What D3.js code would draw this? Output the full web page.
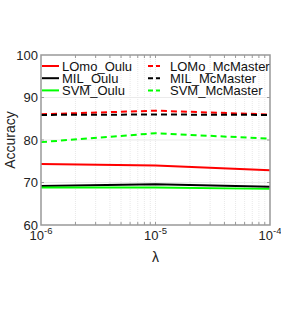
<!DOCTYPE html>
<html>
<head>
<meta charset="utf-8">
<script src="https://cdn.jsdelivr.net/npm/d3@7"></script>
<style>
  body { margin: 0; background: #fff; }
  text { font-family: "Liberation Sans", Arial, sans-serif; }
</style>
</head>
<body>
<svg width="281" height="328"></svg>
<script>
// lambda values and accuracies
const lambdas = [1e-6, 1e-5, 1e-4];
const lomoOulu = [74.35, 74.0, 72.9];
const milOulu = [69.2, 69.6, 69.0];
const svmOulu = [68.8, 68.8, 68.5];
const lomoMcMaster = [86.05, 86.9, 86.0];
const milMcMaster = [85.9, 86.0, 85.9];
const svmMcMaster = [79.5, 81.6, 80.3];
const yTicks = [60, 70, 80, 90, 100];
const xTicks = [1e-6, 1e-5, 1e-4];

const series = [
  {name: 'LOmo_Oulu', values: lomoOulu, color: '#ff0000', dash: null},
  {name: 'MIL_Oulu', values: milOulu, color: '#000000', dash: null},
  {name: 'SVM_Oulu', values: svmOulu, color: '#00ff00', dash: null},
  {name: 'LOMo_McMaster', values: lomoMcMaster, color: '#ff0000', dash: '6,4'},
  {name: 'MIL_McMaster', values: milMcMaster, color: '#000000', dash: '6,4'},
  {name: 'SVM_McMaster', values: svmMcMaster, color: '#00ff00', dash: '6,4'}
];

const pL = 41, pR = 270, pT = 55, pB = 225;
const svg = d3.select('svg');

const x = d3.scaleLog().domain([1e-6, 1e-4]).range([pL, pR]);
const y = d3.scaleLinear().domain([60, 100]).range([pB, pT]);

// minor log positions for grid
const minor = [];
[1e-6, 1e-5].forEach(d => { for (let k = 2; k <= 9; k++) minor.push(d * k); });

const grid = svg.append('g');
grid.selectAll('line.v')
  .data(minor.concat([1e-5]))
  .enter().append('line')
  .attr('x1', d => x(d)).attr('x2', d => x(d))
  .attr('y1', pT).attr('y2', pB)
  .attr('stroke', '#e2e2e2').attr('stroke-width', 0.8)
  .attr('stroke-dasharray', '1,1');
grid.selectAll('line.h')
  .data([70, 80, 90])
  .enter().append('line')
  .attr('x1', pL).attr('x2', pR)
  .attr('y1', d => y(d)).attr('y2', d => y(d))
  .attr('stroke', '#e6e6e6').attr('stroke-width', 0.8);

// inner ticks
const ticks = svg.append('g').attr('stroke', '#999').attr('stroke-width', 1);
minor.concat([1e-5]).forEach(d => {
  ticks.append('line').attr('x1', x(d)).attr('x2', x(d)).attr('y1', pB).attr('y2', pB - 3);
  ticks.append('line').attr('x1', x(d)).attr('x2', x(d)).attr('y1', pT).attr('y2', pT + 3);
});
[70, 80, 90].forEach(d => {
  ticks.append('line').attr('x1', pL).attr('x2', pL + 3).attr('y1', y(d)).attr('y2', y(d));
  ticks.append('line').attr('x1', pR).attr('x2', pR - 3).attr('y1', y(d)).attr('y2', y(d));
});

// lines
const line = d3.line()
  .x((d, i) => x(lambdas[i]))
  .y(d => y(d));

svg.append('g')
  .selectAll('path')
  .data(series)
  .enter().append('path')
  .attr('d', s => line(s.values))
  .attr('fill', 'none')
  .attr('stroke', s => s.color)
  .attr('stroke-width', 2)
  .attr('stroke-dasharray', s => s.dash);

// box
svg.append('rect')
  .attr('x', pL).attr('y', pT)
  .attr('width', pR - pL).attr('height', pB - pT)
  .attr('fill', 'none').attr('stroke', '#999').attr('stroke-width', 1.5);

// y tick labels
svg.append('g').selectAll('text')
  .data(yTicks)
  .enter().append('text')
  .attr('x', pL - 3).attr('y', d => y(d) + 4.5)
  .attr('text-anchor', 'end')
  .attr('font-size', 13).attr('fill', '#222')
  .text(d => d);

// x tick labels (10^n)
const xl = svg.append('g').selectAll('text')
  .data(xTicks)
  .enter().append('text')
  .attr('x', d => x(d)).attr('y', 240)
  .attr('text-anchor', 'middle')
  .attr('font-size', 13).attr('fill', '#222');
xl.append('tspan').text('10');
xl.append('tspan').attr('dy', -6).attr('font-size', 9.5)
  .text(d => '-' + Math.round(-Math.log10(d)));

svg.append('text')
  .attr('x', x(1e-5)).attr('y', 262)
  .attr('text-anchor', 'middle')
  .attr('font-size', 14).attr('fill', '#222')
  .text('λ');

svg.append('text')
  .attr('transform', `translate(15, ${(pT + pB) / 2}) rotate(-90)`)
  .attr('text-anchor', 'middle')
  .attr('font-size', 14).attr('fill', '#222')
  .text('Accuracy');

// legend, two columns of three
const legend = svg.append('g').selectAll('g')
  .data(series)
  .enter().append('g')
  .attr('transform', (s, i) => `translate(${i < 3 ? 42 : 143}, ${66 + (i % 3) * 12.2})`);
legend.append('line')
  .attr('x1', (s, i) => i < 3 ? 0 : 5).attr('x2', 17)
  .attr('stroke', s => s.color).attr('stroke-width', 2)
  .attr('stroke-dasharray', s => s.dash ? '5,3' : null);
legend.append('text')
  .attr('x', (s, i) => i < 3 ? 20 : 27).attr('y', 4.5)
  .attr('font-size', 13).attr('fill', '#111')
  .text(s => s.name);
</script>
</body>
</html>
